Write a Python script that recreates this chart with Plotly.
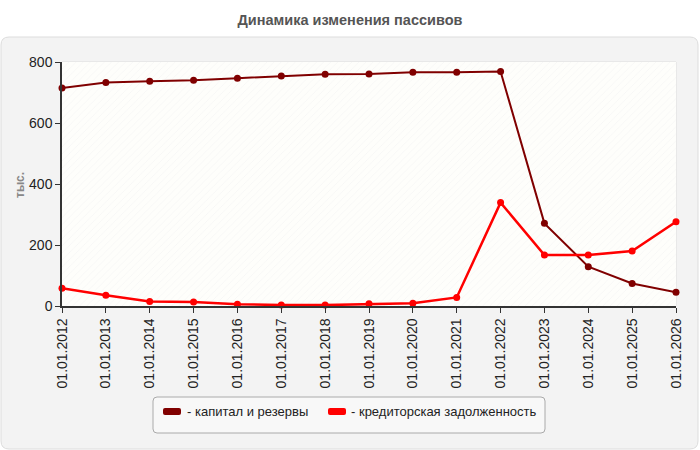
import plotly.graph_objects as go

years = [2012, 2013, 2014, 2015, 2016, 2017, 2018, 2019, 2020, 2021, 2022, 2023, 2024, 2025, 2026]
tick_labels = ["01.01." + str(y) for y in years]
capital = [715, 733, 737, 740, 747, 754, 760, 761, 766, 766, 769, 271, 129, 74, 45]
payables = [58, 35, 15, 13, 6, 3, 3, 7, 9, 28, 339, 167, 167, 180, 276]
series_names = ["- капитал и резервы", "- кредиторская задолженность"]
series_colors = ["#800000", "#ff0000"]
y_ticks = [0, 200, 400, 600, 800]

W, H = 700, 450
L, R, T, B = 62, 676, 62, 306


def px(x):
    return (x - L) / (R - L)


def py(y):
    return (B - y) / (B - T)


def rounded_rect(x0, y0, x1, y1, r):
    return (f"M {px(x0 + r)},{py(y0)} L {px(x1 - r)},{py(y0)} "
            f"Q {px(x1)},{py(y0)} {px(x1)},{py(y0 + r)} "
            f"L {px(x1)},{py(y1 - r)} Q {px(x1)},{py(y1)} {px(x1 - r)},{py(y1)} "
            f"L {px(x0 + r)},{py(y1)} Q {px(x0)},{py(y1)} {px(x0)},{py(y1 - r)} "
            f"L {px(x0)},{py(y0 + r)} Q {px(x0)},{py(y0)} {px(x0 + r)},{py(y0)} Z")


fig = go.Figure()

# hatched background of the plot area
xmin, xmax, ymax = years[0], years[-1], y_ticks[-1]
fig.add_trace(go.Scatter(
    x=[xmin, xmax, xmax, xmin, xmin], y=[0, 0, ymax, ymax, 0],
    mode="lines", line=dict(width=0), fill="toself",
    fillcolor="#fefefb",
    fillpattern=dict(shape="/", fgcolor="#eeeeee", bgcolor="#fefefb", size=5, solidity=0.15),
    hoverinfo="skip", showlegend=False,
))

for vals, name, col, w in [(capital, series_names[0], series_colors[0], 2),
                           (payables, series_names[1], series_colors[1], 2.5)]:
    fig.add_trace(go.Scatter(
        x=years, y=vals, name=name, mode="lines+markers",
        line=dict(color=col, width=w),
        marker=dict(color=col, size=7),
        cliponaxis=False, showlegend=False,
    ))

shapes = [
    # outer panel
    dict(type="path", xref="paper", yref="paper", layer="below",
         path=rounded_rect(1, 37, 698, 449, 8),
         fillcolor="#f3f3f3", line=dict(color="#dddddd", width=1)),
    # plot frame (light)
    dict(type="rect", xref="paper", yref="paper", x0=0, y0=0, x1=1, y1=1,
         line=dict(color="#dddddd", width=1), layer="below"),
    # legend box
    dict(type="path", xref="paper", yref="paper", layer="below",
         path=rounded_rect(153, 397, 545, 433, 4),
         fillcolor="#f8f8f8", line=dict(color="#aaaaaa", width=1)),
]

annotations = []
legend_items = [(163, 185), (328, 349)]
for (ix, tx), name, col in zip(legend_items, series_names, series_colors):
    shapes.append(dict(type="path", xref="paper", yref="paper",
                       path=rounded_rect(ix, 408, ix + 18, 415, 2),
                       fillcolor=col, line=dict(color=col, width=0)))
    annotations.append(dict(xref="paper", yref="paper", x=px(tx), y=py(411.5),
                            xanchor="left", yanchor="middle", showarrow=False,
                            text=name, font=dict(size=13, color="#222222")))

annotations.append(dict(xref="paper", yref="paper", x=px(20), y=py(185),
                        xanchor="center", yanchor="middle", showarrow=False,
                        textangle=-90, text="<b>тыс.</b>",
                        font=dict(size=12, color="#888888")))

fig.update_layout(
    width=W, height=H,
    margin=dict(l=L, r=W - R, t=T, b=H - B),
    paper_bgcolor="white", plot_bgcolor="rgba(0,0,0,0)",
    font=dict(family="Liberation Sans, Arial, sans-serif", size=13, color="#222222"),
    title=dict(text="<b>Динамика изменения пассивов</b>", x=0.5, xanchor="center",
               y=1 - 20 / H, yanchor="middle", yref="container",
               font=dict(size=14.5, color="#555555")),
    shapes=shapes, annotations=annotations,
    showlegend=False,
    xaxis=dict(range=[xmin, xmax], tickmode="array", tickvals=years, ticktext=tick_labels,
               tickangle=-90, showgrid=True, gridcolor="#dddddd", griddash="dash",
               showline=True, linecolor="#333333", linewidth=1.5,
               ticks="outside", ticklen=5, tickcolor="#333333",
               zeroline=False, fixedrange=True, tickfont=dict(size=14, color="#222222")),
    yaxis=dict(range=[0, ymax], tickvals=y_ticks, showgrid=True, gridcolor="#dddddd",
               griddash="dash", showline=True, linecolor="#333333", linewidth=1.5,
               ticks="outside", ticklen=5, tickcolor="#333333",
               zeroline=False, fixedrange=True, tickfont=dict(size=14, color="#222222")),
)

fig.write_html("out.html")
